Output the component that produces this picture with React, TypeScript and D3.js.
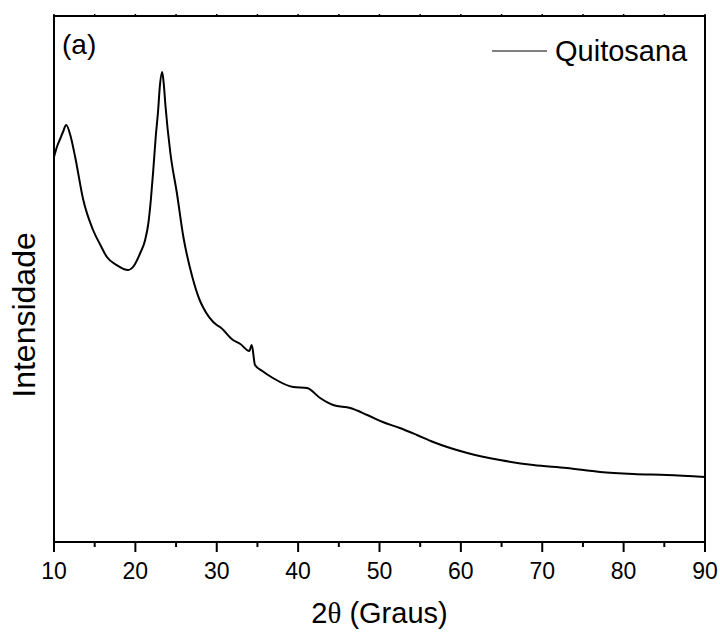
import React from "react";
import * as d3 from "d3";

// 2θ (degrees)
const twoTheta = [
  10.0, 10.4, 10.7, 11.1, 11.5, 12.0, 12.6, 13.6, 14.8, 15.7, 16.5, 17.7, 19.1, 19.8, 20.6,
  21.2, 21.6, 21.9, 22.2, 22.5, 22.8, 23.0, 23.3, 23.5, 23.7, 24.3, 25.1, 25.9,
  27.0, 27.9, 28.3, 30.0, 30.4, 32.0, 32.9, 34.0, 34.3, 34.7, 35.6, 36.9, 39.4,
  41.1, 42.7, 44.3, 46.4, 48.5, 50.4, 52.5, 54.6, 56.6, 60.8, 64.8, 68.9, 73.0,
  77.1, 81.2, 85.3, 90.0,
];
// intensity (arbitrary units)
const intensity = [
  385, 396, 402, 410, 417, 407, 385, 342, 312, 297, 285, 277, 272, 276, 289,
  302, 319, 342, 372, 405, 432, 455, 470, 457, 436, 389, 349, 305,
  265, 242, 235, 217, 215, 202, 198, 191, 197, 177, 171, 164, 155,
  154, 144, 137, 134, 127, 120, 114, 107, 100, 89, 82, 77, 74,
  70, 68, 67, 65,
];
const xTicks = [10, 20, 30, 40, 50, 60, 70, 80, 90];
const xMinorTicks = [15, 25, 35, 45, 55, 65, 75, 85];
const seriesName = "Quitosana";
const panelLabel = "(a)";
const yTitle = "Intensidade";

const W = 720;
const H = 632;
const M = { left: 54, right: 15, top: 16, bottom: 90 };
const FONT = "'Liberation Sans', Arial, sans-serif";

export default function App() {
  const x = d3.scaleLinear().domain([10, 90]).range([M.left, W - M.right]);
  const y = d3.scaleLinear().domain([0, 526]).range([H - M.bottom, M.top]);
  const data = twoTheta.map((t, i) => ({ t, v: intensity[i] }));
  const line = d3
    .line<{ t: number; v: number }>()
    .x((d) => x(d.t))
    .y((d) => y(d.v))
    .curve(d3.curveMonotoneX);
  const x0 = M.left, x1 = W - M.right, y0 = M.top, y1 = H - M.bottom;
  return (
    <svg
      width={W}
      height={H}
      style={{ position: "absolute", left: 0, top: 0, background: "#fff" }}
      fontFamily={FONT}
    >
      <path d={line(data) || ""} fill="none" stroke="#000" strokeWidth={2} strokeLinejoin="round" />
      <rect x={x0} y={y0} width={x1 - x0} height={y1 - y0} fill="none" stroke="#000" strokeWidth={2} />
      {xTicks.map((t) => (
        <g key={"M" + t}>
          <line x1={x(t)} x2={x(t)} y1={y1} y2={y1 + 10} stroke="#000" strokeWidth={2} />
          <line x1={x(t)} x2={x(t)} y1={y0} y2={y0 - 2} stroke="#000" strokeWidth={1.5} />
          <text x={x(t)} y={579} textAnchor="middle" fontSize={23}>{t}</text>
        </g>
      ))}
      {xMinorTicks.map((t) => (
        <g key={"m" + t}>
          <line x1={x(t)} x2={x(t)} y1={y1} y2={y1 + 5} stroke="#000" strokeWidth={2} />
          <line x1={x(t)} x2={x(t)} y1={y0} y2={y0 - 2} stroke="#000" strokeWidth={1.5} />
        </g>
      ))}
      <text x={(x0 + x1) / 2} y={623} textAnchor="middle" fontSize={29}>
        2<tspan fontFamily="'Liberation Serif', 'Times New Roman', serif">θ</tspan> (Graus)
      </text>
      <text transform={`translate(35,315) rotate(-90)`} textAnchor="middle" fontSize={32}>{yTitle}</text>
      <text x={62} y={54} fontSize={28}>{panelLabel}</text>
      <line x1={492} x2={547} y1={51} y2={51} stroke="#555" strokeWidth={1.5} />
      <text x={555} y={61} fontSize={29}>{seriesName}</text>
    </svg>
  );
}
